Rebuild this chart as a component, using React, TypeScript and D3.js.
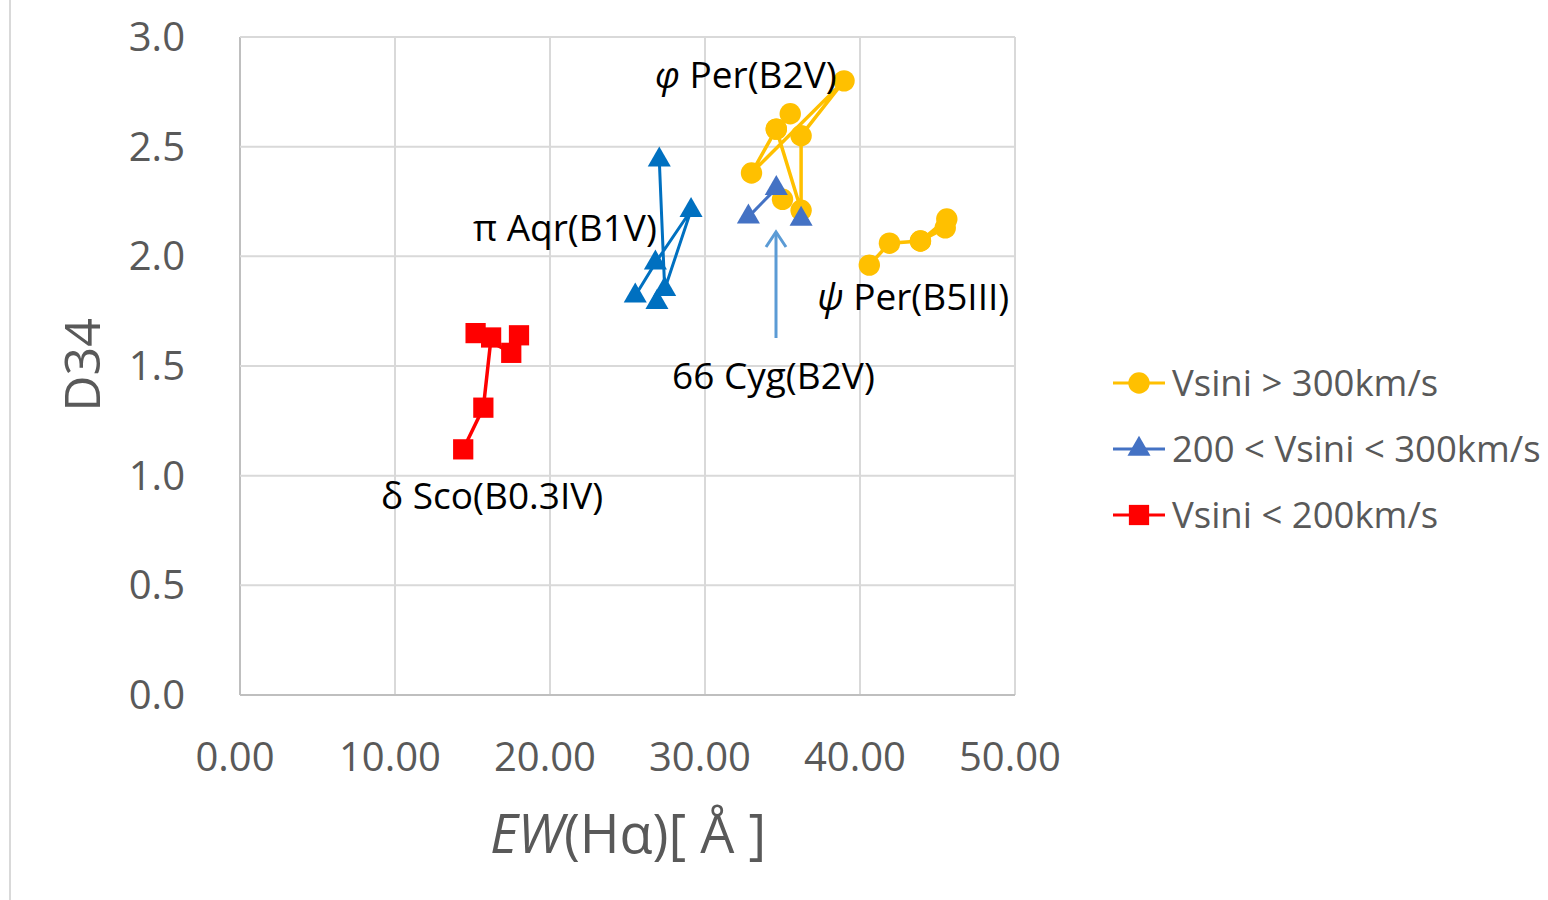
import * as d3 from "d3";

type Pt = [number, number] | null;

// EW(Hα) [Å], D34; null = break in the line
const phiPer: Pt[] = [[35.0, 2.26], null, [35.5, 2.65], [34.6, 2.58], [33.0, 2.38], [38.97, 2.8], [36.2, 2.55], [36.2, 2.21], [34.6, 2.58]];
const psiPer: Pt[] = [[40.6, 1.96], [41.9, 2.06], [43.9, 2.07], [45.6, 2.17], [45.5, 2.13], [43.9, 2.07]];
const piAqr: Pt[] = [[26.9, 1.79], null, [25.5, 1.82], [26.8, 1.97], [29.1, 2.21], [27.4, 1.85], [27.05, 2.44]];
const cyg66: Pt[] = [[36.2, 2.17], null, [34.6, 2.31], [32.8, 2.18]];
const deltaSco: Pt[] = [[14.4, 1.12], [15.7, 1.31], [16.2, 1.63], [15.2, 1.65], [17.5, 1.56], [18.0, 1.64]];

const xTicks = [0, 10, 20, 30, 40, 50];
const yTicks = [0, 0.5, 1.0, 1.5, 2.0, 2.5, 3.0];
const legendLabels = ["Vsini > 300km/s", "200 < Vsini < 300km/s", "Vsini < 200km/s"];

const YELLOW = "#FFC000";
const BLUE = "#4472C4";
const BLUE2 = "#0070C0";
const RED = "#FF0000";
const FONT = "'Open Sans', 'Noto Sans', sans-serif";

const x = d3.scaleLinear().domain([0, 50]).range([240, 1015]);
const y = d3.scaleLinear().domain([0, 3]).range([695, 37]);

const line = d3
  .line<Pt>()
  .defined((d) => d !== null)
  .x((d) => x(d![0]))
  .y((d) => y(d![1]));

const circle = d3.symbol().type(d3.symbolCircle).size(360)()!;
const triangle = d3.symbol().type(d3.symbolTriangle).size(230)()!;
const square = d3.symbol().type(d3.symbolSquare).size(410)()!;

const series = [
  { data: phiPer, color: YELLOW, shape: circle, width: 3.5 },
  { data: psiPer, color: YELLOW, shape: circle, width: 3.5 },
  { data: piAqr, color: BLUE2, shape: triangle, width: 3 },
  { data: cyg66, color: BLUE, shape: triangle, width: 3 },
  { data: deltaSco, color: RED, shape: square, width: 3.5 },
];

const legend = [
  { color: YELLOW, shape: circle },
  { color: BLUE, shape: triangle },
  { color: RED, shape: square },
];

export default function App() {
  return (
    <svg
      width={1548}
      height={900}
      style={{ position: "absolute", left: 0, top: 0, background: "#fff" }}
      fontFamily={FONT}
    >
      <line x1={10} x2={10} y1={0} y2={900} stroke="#D9D9D9" strokeWidth={2} />

      {/* grid */}
      {xTicks.map((t) => (
        <line key={"gx" + t} x1={x(t)} x2={x(t)} y1={y(3)} y2={y(0)} stroke={t === 0 ? "#BFBFBF" : "#D9D9D9"} strokeWidth={2} />
      ))}
      {yTicks.map((t) => (
        <line key={"gy" + t} x1={x(0)} x2={x(50)} y1={y(t)} y2={y(t)} stroke={t === 0 ? "#BFBFBF" : "#D9D9D9"} strokeWidth={2} />
      ))}

      {/* tick labels */}
      {yTicks.map((t) => (
        <text key={"ty" + t} x={185} y={y(t)} dy="0.35em" textAnchor="end" fontSize={40} fill="#595959">
          {t.toFixed(1)}
        </text>
      ))}
      {xTicks.map((t) => (
        <text key={"tx" + t} x={x(t) - 5} y={757} dy="0.35em" textAnchor="middle" fontSize={40} fill="#595959">
          {t.toFixed(2)}
        </text>
      ))}

      {/* axis titles */}
      <text transform="translate(100,365) rotate(-90)" textAnchor="middle" fontSize={50} fill="#595959">
        D34
      </text>
      <text x={628} y={853} textAnchor="middle" fontSize={54} fill="#595959">
        <tspan fontStyle="italic">EW</tspan>(Hα)[ Å ]
      </text>

      {/* series */}
      {series.map((s, i) => (
        <g key={"s" + i}>
          <path d={line(s.data) ?? ""} fill="none" stroke={s.color} strokeWidth={s.width} />
          {s.data
            .filter((d) => d !== null)
            .map((d, j) => (
              <path key={j} d={s.shape} transform={`translate(${x(d![0])},${y(d![1])})`} fill={s.color} />
            ))}
        </g>
      ))}

      {/* 66 Cyg arrow */}
      <g stroke="#5B9BD5" strokeWidth={3} fill="none">
        <line x1={776} x2={776} y1={338} y2={232} />
        <polyline points="766,247 776,232 786,247" />
      </g>

      {/* star labels */}
      <g fontSize={37} fill="#000">
        <text x={655} y={75} dy="0.35em">
          <tspan fontStyle="italic">φ</tspan> Per(B2V)
        </text>
        <text x={473} y={228} dy="0.35em">π Aqr(B1V)</text>
        <text x={817} y={297} dy="0.35em">
          <tspan fontStyle="italic">ψ</tspan> Per(B5III)
        </text>
        <text x={672} y={376} dy="0.35em">66 Cyg(B2V)</text>
        <text x={381} y={496} dy="0.35em">δ Sco(B0.3IV)</text>
      </g>

      {/* legend */}
      {legend.map((l, i) => {
        const ly = 383 + i * 66;
        return (
          <g key={"l" + i}>
            <line x1={1113} x2={1165} y1={ly} y2={ly} stroke={l.color} strokeWidth={3} />
            <path d={l.shape} transform={`translate(1139,${ly})`} fill={l.color} />
            <text x={1172} y={ly} dy="0.35em" fontSize={36.5} fill="#595959">
              {legendLabels[i]}
            </text>
          </g>
        );
      })}
    </svg>
  );
}
